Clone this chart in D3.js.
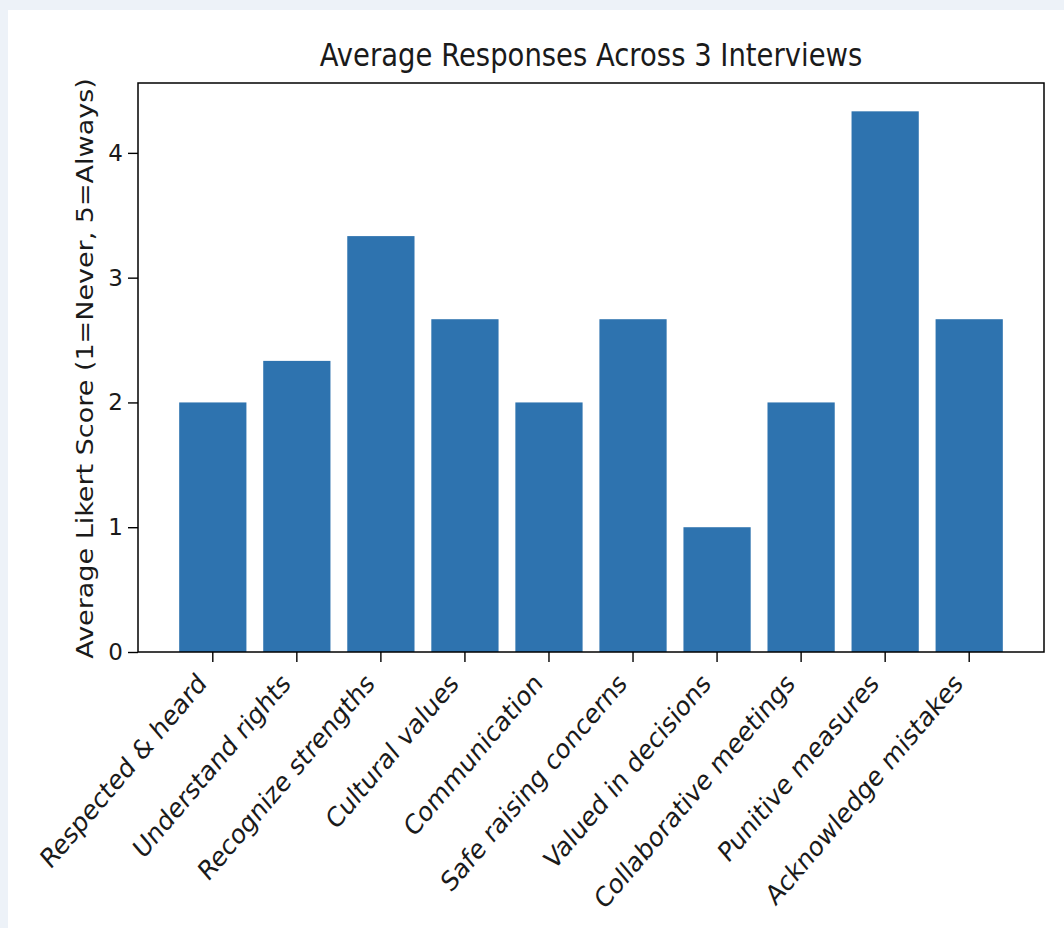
<!DOCTYPE html>
<html>
<head>
<meta charset="utf-8">
<script src="https://cdn.jsdelivr.net/npm/d3@7"></script>
<style>
  body { margin: 0; background: #edf2f8; }
  svg { display: block; }
  text { font-family: "DejaVu Sans", sans-serif; fill: #1a1a1a; }
</style>
</head>
<body>
<svg width="1064" height="928"></svg>
<script>
const categories = ["Respected & heard", "Understand rights", "Recognize strengths", "Cultural values",
    "Communication", "Safe raising concerns", "Valued in decisions", "Collaborative meetings",
    "Punitive measures", "Acknowledge mistakes"];
const scores = [2, 2.333, 3.333, 2.667, 2, 2.667, 1, 2, 4.333, 2.667];
const yTicks = [0, 1, 2, 3, 4];

const svg = d3.select("svg");
const sx = 0.85; // text in the picture is squeezed sideways

svg.append("rect").attr("x", 8).attr("y", 10).attr("width", 1056).attr("height", 918).attr("fill", "#fff");

const plot = {left: 138, right: 1044, top: 83, bottom: 652};

const x = d3.scaleBand().domain(categories).range([plot.left, plot.right]).paddingInner(0.2).paddingOuter(0.49);
const y = d3.scaleLinear().domain([0, 4.56]).range([plot.bottom, plot.top]);

svg.selectAll(".bar")
    .data(categories)
    .enter().append("rect")
    .attr("class", "bar")
    .attr("x", d => x(d))
    .attr("y", (d, i) => y(scores[i]))
    .attr("width", x.bandwidth())
    .attr("height", (d, i) => y(0) - y(scores[i]))
    .attr("fill", "#2e73af");

// y axis
const yAxis = svg.append("g")
    .attr("transform", `translate(${plot.left},0)`)
    .call(d3.axisLeft(y).tickValues(yTicks).tickFormat(d3.format("d")).tickSize(10).tickPadding(5));
yAxis.select(".domain").remove();
yAxis.selectAll("line").attr("stroke", "#000").attr("stroke-width", 1.4);
yAxis.selectAll("text").attr("font-size", 23).attr("fill", "#1a1a1a");

// x axis
const xAxis = svg.append("g")
    .attr("transform", `translate(0,${plot.bottom})`)
    .call(d3.axisBottom(x).tickSize(10).tickFormat(""));
xAxis.select(".domain").remove();
xAxis.selectAll("line").attr("stroke", "#000").attr("stroke-width", 1.4);

svg.selectAll(".xlabel")
    .data(categories)
    .enter().append("text")
    .attr("class", "xlabel")
    .attr("transform", d => `translate(${x(d) + x.bandwidth() / 2 - 5},${plot.bottom + 33}) scale(${sx},1) rotate(-45)`)
    .attr("text-anchor", "end")
    .attr("font-size", 27.5)
    .text(d => d);

// frame
svg.append("rect")
    .attr("x", plot.left).attr("y", plot.top)
    .attr("width", plot.right - plot.left).attr("height", plot.bottom - plot.top)
    .attr("fill", "none").attr("stroke", "#000").attr("stroke-width", 1.5);

svg.append("text")
    .attr("transform", `translate(${(plot.left + plot.right) / 2},66) scale(${sx},1)`)
    .attr("text-anchor", "middle")
    .attr("font-size", 32.3)
    .text("Average Responses Across 3 Interviews");

svg.append("text")
    .attr("transform", `translate(93,${(plot.top + plot.bottom) / 2 + 1}) scale(${sx},1) rotate(-90)`)
    .attr("text-anchor", "middle")
    .attr("font-size", 27)
    .text("Average Likert Score (1=Never, 5=Always)");
</script>
</body>
</html>
